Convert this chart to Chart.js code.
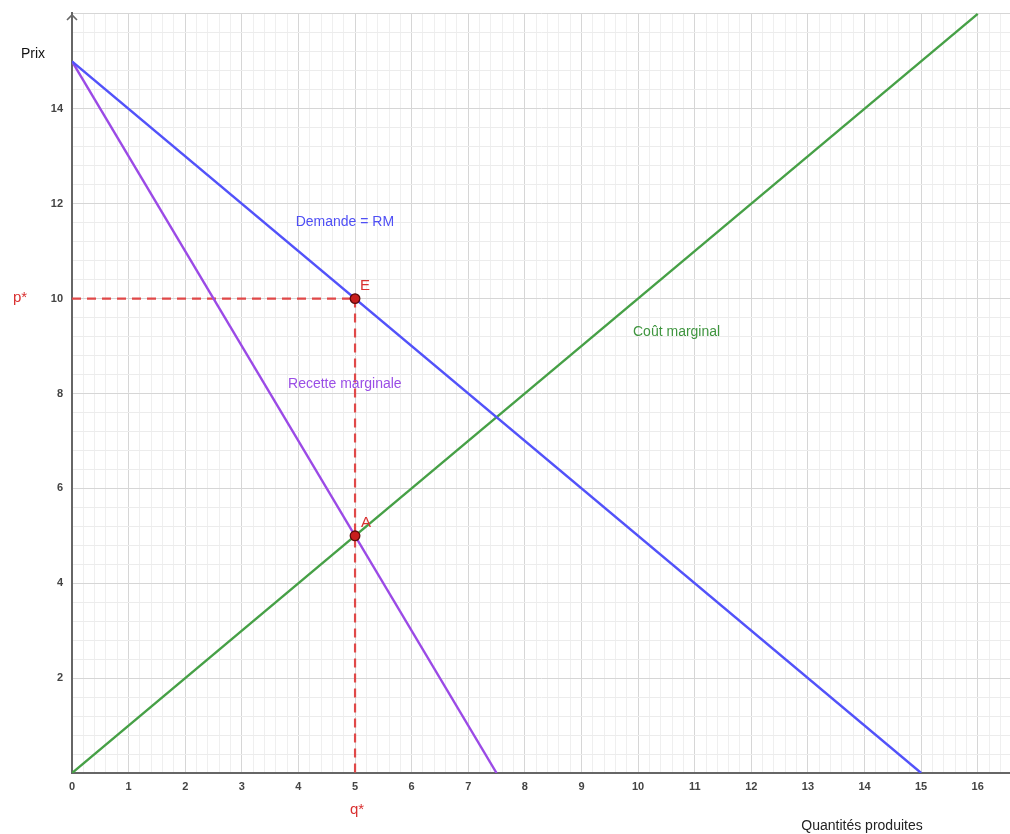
<!DOCTYPE html>
<html>
<head>
<meta charset="utf-8">
<script src="https://cdn.jsdelivr.net/npm/chart.js@4/dist/chart.umd.min.js"></script>
<style>
html,body{margin:0;padding:0;background:#fff;}
canvas{display:block;}
</style>
</head>
<body>
<canvas id="c" width="1010" height="834"></canvas>
<script>
// ---- data ----
const demandX = [0, 15];
const demandY = [15, 0];
const mrX = [0, 7.5];
const mrY = [15, 0];
const mcX = [0, 16];
const mcY = [0, 16];
const qStar = 5;
const pStar = 10;
const pointLabels = ['E', 'A'];
const pointX = [5, 5];
const pointY = [10, 5];
const xTickLabels = ['0','1','2','3','4','5','6','7','8','9','10','11','12','13','14','15','16'];
const yTickLabels = ['2','4','6','8','10','12','14'];

const toXY = (xs, ys) => xs.map((x, i) => ({x: x, y: ys[i]}));
const isInt = v => Math.abs(v - Math.round(v)) < 1e-6;
const isEven = v => isInt(v) && Math.round(v) % 2 === 0;

const annot = {
  id: 'annot',
  afterDraw(chart) {
    const ctx = chart.ctx;
    const xs = chart.scales.x, ys = chart.scales.y;
    const X = v => xs.getPixelForValue(v), Y = v => ys.getPixelForValue(v);
    ctx.save();
    // axis arrow on y axis
    ctx.strokeStyle = '#666';
    ctx.lineWidth = 1.6;
    ctx.beginPath();
    ctx.moveTo(X(0) - 5, chart.chartArea.top + 7);
    ctx.lineTo(X(0), chart.chartArea.top + 2);
    ctx.lineTo(X(0) + 5, chart.chartArea.top + 7);
    ctx.stroke();
    ctx.textAlign = 'center';
    ctx.textBaseline = 'middle';
    const txt = (s, x, y, color, font) => { ctx.fillStyle = color; ctx.font = font; ctx.fillText(s, x, y); };
    const f = '14px "Liberation Sans", Arial, sans-serif';
    const f15 = '15px "Liberation Sans", Arial, sans-serif';
    txt('Demande = RM', X(4.82), Y(11.62), '#4f4ff5', f);
    txt('Recette marginale', X(4.82), Y(8.19), '#9a4ee6', f);
    txt('Coût marginal', X(10.68), Y(9.3), '#3f953f', f);
    txt(pointLabels[0], X(pointX[0]) + 10, Y(pointY[0]) - 13, '#d93030', f15);
    txt(pointLabels[1], X(pointX[1]) + 11, Y(pointY[1]) - 13, '#d93030', f15);
    txt('Prix', 33, 54, '#111', f);
    txt('Quantités produites', 862, 826, '#222', f);
    txt('p*', 20, Y(pStar) - 1, '#d93030', f15);
    txt('q*', X(qStar) + 2, 810, '#d93030', f15);
    ctx.restore();
  }
};

const lineBase = {showLine: true, pointRadius: 0, pointHoverRadius: 0, fill: false, borderWidth: 2.4};

new Chart(document.getElementById('c'), {
  type: 'scatter',
  data: {
    datasets: [
      {label: 'points', data: toXY(pointX, pointY), showLine: false, pointRadius: 4.8, pointBackgroundColor: '#c81e1e', pointBorderColor: '#5a0c0c', pointBorderWidth: 1.3},
      Object.assign({label: 'Demande', data: toXY(demandX, demandY), borderColor: '#5252fa'}, lineBase),
      Object.assign({label: 'Recette marginale', data: toXY(mrX, mrY), borderColor: '#9b4ae6'}, lineBase),
      Object.assign({label: 'Coût marginal', data: toXY(mcX, mcY), borderColor: '#46a046'}, lineBase),
      Object.assign({label: 'p*', data: toXY([0, qStar], [pStar, pStar]), borderColor: '#e04848', borderDash: [9, 6]}, lineBase, {borderWidth: 2.2}),
      Object.assign({label: 'q*', data: toXY([qStar, qStar], [pStar, 0]), borderColor: '#e04848', borderDash: [9, 6]}, lineBase, {borderWidth: 2.2})
    ]
  },
  options: {
    responsive: false,
    animation: false,
    events: [],
    layout: {autoPadding: false, padding: {top: 13, right: 0, left: 0, bottom: 0}},
    plugins: {legend: {display: false}, tooltip: {enabled: false}},
    scales: {
      x: {
        type: 'linear', min: 0, max: 16.57,
        afterFit: s => { s.height = 61; s.paddingRight = 0; s.paddingLeft = 0; },
        ticks: {
          stepSize: 0.2, includeBounds: false, autoSkip: false, maxRotation: 0, padding: 7,
          color: '#444', font: {size: 11, weight: 'bold', family: '"Liberation Sans", Arial, sans-serif'},
          callback: v => isInt(v) && xTickLabels.includes(String(Math.round(v))) ? String(Math.round(v)) : ''
        },
        grid: {drawTicks: false, lineWidth: 1, color: c => isInt(c.tick.value) ? '#d6d6d6' : '#efefef'},
        border: {display: true, color: '#666', width: 2}
      },
      y: {
        type: 'linear', min: 0, max: 16.02,
        afterFit: s => { s.width = 72; s.paddingTop = 0; s.paddingBottom = 0; },
        ticks: {
          stepSize: 0.4, includeBounds: false, autoSkip: false, padding: 9,
          color: '#444', font: {size: 11, weight: 'bold', family: '"Liberation Sans", Arial, sans-serif'},
          callback: v => isEven(v) && yTickLabels.includes(String(Math.round(v))) ? String(Math.round(v)) : ''
        },
        grid: {drawTicks: false, lineWidth: 1, color: c => isEven(c.tick.value) ? '#d6d6d6' : '#ececec'},
        border: {display: true, color: '#666', width: 2}
      }
    }
  },
  plugins: [annot]
});
</script>
</body>
</html>
